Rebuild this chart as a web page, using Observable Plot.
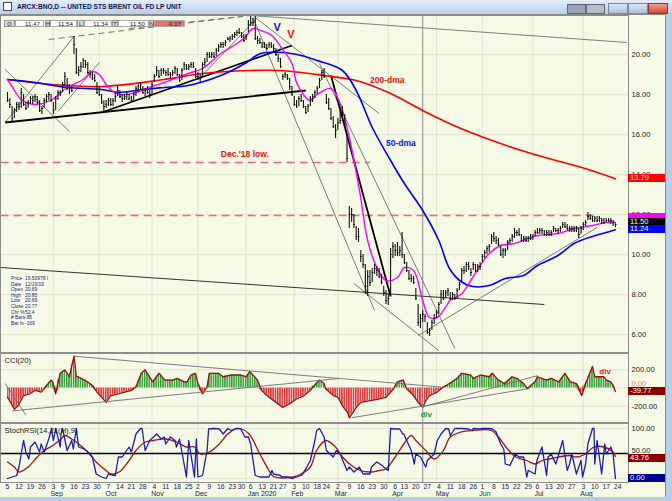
<!DOCTYPE html>
<html><head><meta charset="utf-8">
<script src="https://cdn.jsdelivr.net/npm/d3@7"></script>
<script src="https://cdn.jsdelivr.net/npm/@observablehq/plot@0.6"></script>
<style>
body{margin:0;background:#b8cde6;font-family:"Liberation Sans",Arial,sans-serif;}
#root{position:relative;width:672px;height:501px;overflow:hidden;background:#b8cde6;}
.a{position:absolute;white-space:nowrap;}
</style></head><body><div id="root"></div>
<script>
// ---------- DATA ----------
const firstBar = "2019-08-05";
const holidays = ["2019-09-02","2019-11-28","2019-12-25","2020-01-01","2020-01-20","2020-02-17","2020-04-10","2020-05-25","2020-07-03"];
// daily highs / lows / closes, Aug 5 2019 .. Aug 21 2020 (266 bars)
const highs = [
 18.1,17.8,17.4,17.3,17.6, 17.6,18.3,18.0,17.6,17.7, 17.9,17.9,18.0,17.9,17.7, 17.4,17.8,18.0,18.1,18.0,
 17.6,17.9,18.2,18.2, 18.6,19.1,18.8,18.5,18.4, 20.9,20.3,19.4,19.6,19.8, 19.7,19.6,19.2,19.1,19.0, 18.6,
 18.4,18.0,17.7,17.7, 17.8,17.8,17.8,18.1,18.4, 18.2,18.0,18.0,18.1,18.0, 17.9,18.1,18.4,18.5,18.6, 18.4,18.3,18.4,18.2,
 18.6, 19.0,19.4,19.2,19.3,19.3, 19.2,19.3,19.1,19.2,19.4, 19.3,19.0,19.3,19.6,19.5, 19.5,19.6,19.6,19.3,
 19.1,19.0,19.6,19.8,20.1, 20.1,20.1,20.1,20.3,20.5, 20.6,20.6,20.7,20.85,20.9, 21.0,21.1,21.2,21.3, 21.1,21.0,
 21.0,21.7, 21.9,21.8,21.9,20.9,20.8, 20.6,20.6,20.5,20.6,20.6, 20.5,20.3,20.0,19.8, 19.0,19.1,19.0,18.8,18.4,
 17.9,17.7,17.9,18.0,17.7, 17.4,17.5,17.9,18.0,18.2, 18.4,18.8,19.2,19.3, 18.0,17.8,17.3,16.9,16.5,
 16.8,17.2,17.4,17.0,16.0, 12.4,12.3,12.0,11.4,11.3, 10.2,10.0,9.5,9.2,9.2, 9.3,9.5,9.4,9.3,9.0, 8.4,8.2,
 8.0,10.3,10.6, 10.5,10.6,10.4,11.1, 10.0,9.6,9.2,9.0,8.9, 8.3,7.5,7.0,7.2,7.0, 6.6,6.3,6.7,7.0,
 7.2, 7.6,8.2,8.2,8.2,8.3, 8.1,8.1,8.0,8.3,8.6, 9.3,9.4,9.6,9.6,9.3, 9.6,9.5,9.5,9.6,
 10.0,10.2,10.4,10.5,11.0, 11.1,10.9,10.8,10.4,10.3, 10.3,10.7,10.8,11.0,11.3, 11.2,11.3,11.0,10.9,10.9, 10.9,11.0,
 11.0,11.2, 11.3,11.3,11.3,11.2,11.2, 11.2,11.2,11.4,11.3,11.3, 11.4,11.6,11.6,11.5,11.4, 11.4,11.4,11.4,11.3,11.4,
 11.6,11.7,12.1,12.0,11.9, 11.9,11.9,11.9,11.8,11.8, 11.8,11.8,11.8,11.7,11.54];
const lows = [
 17.6,17.3,16.6,16.8,17.1, 17.2,17.3,17.4,17.2,17.3, 17.5,17.5,17.6,17.5,17.1, 17.0,17.3,17.6,17.7,17.6,
 17.0,17.2,17.7,17.9, 18.1,18.4,18.2,18.0,18.1, 20.0,19.0,18.9,19.1,19.3, 19.3,19.0,18.8,18.7,18.6, 18.0,
 17.9,17.5,17.1,17.3, 17.4,17.4,17.4,17.6,17.9, 17.8,17.6,17.7,17.7,17.7, 17.6,17.7,17.9,18.1,18.2, 18.0,17.9,18.0,17.8,
 18.0, 18.6,18.9,18.8,18.9,19.0, 18.9,18.9,18.8,18.9,19.0, 18.9,18.6,18.7,19.2,19.2, 19.2,19.3,19.3,18.8,
 18.7,18.6,18.9,19.4,19.6, 19.8,19.8,19.8,19.9,20.1, 20.3,20.3,20.4,20.69,20.6, 20.7,20.8,20.9,21.0, 20.8,20.6,
 20.7,21.1, 21.4,21.4,20.7,20.5,20.5, 20.3,20.3,20.2,20.3,20.3, 20.1,19.9,19.6,19.3, 18.7,18.8,18.7,18.2,17.9,
 17.4,17.3,17.4,17.6,17.3, 17.0,17.1,17.4,17.6,17.8, 18.0,18.3,18.7,18.8, 17.5,17.2,16.7,16.3,15.8,
 16.2,16.5,16.8,16.4,14.6, 11.3,11.6,11.3,10.7,10.6, 9.6,9.3,8.0,7.9,8.4, 8.6,9.0,8.9,8.8,8.5, 7.9,7.5,
 7.45,7.9,9.8, 9.9,9.9,9.9,9.8, 9.5,9.1,8.7,8.6,8.5, 7.7,6.4,6.3,6.6,6.6, 6.0,5.9,6.2,6.5,
 6.8, 7.0,7.5,7.7,7.8,7.9, 7.7,7.7,7.7,7.8,8.2, 8.6,9.0,9.1,9.2,8.9, 9.2,9.1,9.1,9.2,
 9.6,9.8,10.0,10.1,10.5, 10.6,10.5,10.4,9.9,9.8, 9.9,10.2,10.5,10.6,10.8, 10.9,10.9,10.6,10.6,10.6, 10.6,10.7,
 10.7,10.9, 11.0,11.0,11.0,10.9,10.9, 10.9,10.9,11.1,11.1,11.0, 11.1,11.3,11.3,11.2,11.1, 11.1,11.1,11.1,10.8,11.0,
 11.2,11.4,11.7,11.7,11.6, 11.6,11.6,11.6,11.5,11.5, 11.6,11.6,11.5,11.4,11.34];
const closes = [
 17.7,17.5,16.8,17.2,17.5, 17.4,18.1,17.5,17.3,17.6, 17.8,17.7,17.9,17.6,17.2, 17.3,17.7,17.9,18.0,17.7,
 17.2,17.8,18.1,18.1, 18.5,18.9,18.3,18.3,18.2, 20.5,19.1,19.2,19.4,19.7, 19.5,19.1,19.0,18.8,18.7, 18.1,
 18.0,17.6,17.4,17.5, 17.7,17.5,17.7,17.9,18.2, 17.9,17.8,17.9,18.0,17.8, 17.7,18.0,18.3,18.4,18.5, 18.1,18.2,18.1,18.0,
 18.5, 18.9,19.2,18.9,19.2,19.2, 19.1,19.0,19.0,19.1,19.3, 19.0,18.7,19.2,19.5,19.3, 19.4,19.5,19.4,18.9,
 18.9,18.8,19.5,19.6,20.0, 19.9,20.0,19.9,20.2,20.4, 20.5,20.5,20.6,20.77,20.8, 20.9,21.0,21.1,21.1, 20.9,20.7,
 20.9,21.5, 21.6,21.6,20.8,20.7,20.6, 20.4,20.5,20.3,20.5,20.4, 20.3,20.0,19.8,19.4, 18.9,19.0,18.8,18.4,18.0,
 17.5,17.4,17.8,17.7,17.4, 17.1,17.4,17.8,17.9,18.1, 18.3,18.7,19.1,18.9, 17.6,17.3,16.8,16.4,16.2,
 16.6,16.7,17.0,16.5,14.8, 12.0,12.0,11.5,10.9,10.9, 9.9,9.5,8.4,8.9,8.6, 9.1,9.3,9.2,8.9,8.6, 8.1,7.7,
 7.8,10.0,10.4, 10.2,10.1,10.2,10.0, 9.6,9.2,8.8,8.8,8.6, 7.8,6.6,6.8,7.0,6.9, 6.1,6.2,6.6,6.8,
 7.1, 7.5,8.0,7.8,8.1,8.2, 7.8,8.0,7.8,8.2,8.5, 9.2,9.2,9.5,9.4,9.1, 9.5,9.2,9.4,9.4,
 9.9,10.1,10.3,10.4,10.9, 10.8,10.7,10.5,10.0,10.2, 10.2,10.6,10.7,10.9,11.1, 11.1,11.0,10.7,10.8,10.7, 10.8,10.8,
 10.9,11.1, 11.1,11.2,11.2,11.0,11.1, 11.0,11.1,11.3,11.2,11.2, 11.3,11.5,11.4,11.3,11.3, 11.3,11.2,11.3,11.0,11.3,
 11.5,11.6,11.9,11.8,11.7, 11.8,11.7,11.8,11.7,11.6, 11.7,11.7,11.7,11.6,11.50];

// moving averages
const ma200 = [["2019-08-05",18.75],["2019-09-01",18.5],["2019-10-02",18.4],["2019-11-09",18.75],["2019-12-04",19.05],["2020-01-05",19.2],["2020-01-24",19.2],["2020-02-21",18.95],["2020-03-12",18.7],["2020-04-02",18.05],["2020-04-23",17.2],["2020-05-17",16.3],["2020-06-24",15.2],["2020-07-13",14.8],["2020-08-01",14.35],["2020-08-21",13.79]];
const ma50 = [["2019-08-05",18.75],["2019-08-21",18.6],["2019-09-11",18.35],["2019-10-02",18.25],["2019-10-13",18.1],["2019-10-28",18.25],["2019-11-09",18.35],["2019-11-24",18.45],["2019-12-16",18.95],["2020-01-01",19.55],["2020-01-11",20.05],["2020-01-26",20.1],["2020-02-06",19.95],["2020-02-18",19.7],["2020-03-04",19.2],["2020-03-12",18.2],["2020-03-23",16.35],["2020-04-02",14.7],["2020-04-13",13.55],["2020-04-23",12.2],["2020-05-04",10.7],["2020-05-10",9.3],["2020-05-17",8.65],["2020-05-25",8.4],["2020-06-04",8.45],["2020-06-15",8.8],["2020-06-25",8.95],["2020-07-06",9.45],["2020-07-17",9.95],["2020-07-28",10.55],["2020-08-07",10.9],["2020-08-17",11.1],["2020-08-21",11.24]];
const ma10 = [["2019-08-05",18.75],["2019-08-07",18.4],["2019-08-13",17.75],["2019-08-21",17.5],["2019-09-01",17.75],["2019-09-11",18.35],["2019-09-20",18.75],["2019-09-26",19.15],["2019-10-01",19.0],["2019-10-07",18.35],["2019-10-13",18.0],["2019-10-23",18.1],["2019-11-01",18.4],["2019-11-09",18.6],["2019-11-24",19.05],["2019-12-04",19.3],["2019-12-16",20.05],["2019-12-26",20.55],["2020-01-01",20.85],["2020-01-07",21.3],["2020-01-11",21.2],["2020-01-18",20.95],["2020-01-26",20.3],["2020-01-31",19.55],["2020-02-04",18.6],["2020-02-08",17.95],["2020-02-12",17.7],["2020-02-18",18.0],["2020-02-26",18.3],["2020-03-03",17.55],["2020-03-09",15.85],["2020-03-15",13.05],["2020-03-19",10.7],["2020-03-25",9.35],["2020-03-31",8.7],["2020-04-07",8.85],["2020-04-13",9.35],["2020-04-17",9.2],["2020-04-23",7.7],["2020-04-28",6.85],["2020-05-02",6.85],["2020-05-08",7.55],["2020-05-10",7.7],["2020-05-17",8.0],["2020-05-25",8.85],["2020-06-04",10.05],["2020-06-11",10.45],["2020-06-19",10.55],["2020-06-28",10.8],["2020-07-06",10.95],["2020-07-17",11.05],["2020-07-28",11.3],["2020-08-07",11.45],["2020-08-17",11.6],["2020-08-21",11.6]];

// CCI(20)
const cci = [["2019-08-05",-100],["2019-08-08",-234],["2019-08-11",-196],["2019-08-14",-83],["2019-08-18",-64],["2019-08-21",-26],["2019-08-25",-45],["2019-08-27",-8],["2019-08-30",87],["2019-09-02",68],["2019-09-04",-64],["2019-09-06",162],["2019-09-10",200],["2019-09-12",124],["2019-09-13",240],["2019-09-16",350],["2019-09-17",130],["2019-09-18",120],["2019-09-22",87],["2019-09-26",30],["2019-09-30",-45],["2019-10-04",-158],["2019-10-08",-83],["2019-10-12",-64],["2019-10-16",-45],["2019-10-21",-26],["2019-10-23",11],["2019-10-26",162],["2019-10-29",200],["2019-11-02",68],["2019-11-06",162],["2019-11-10",87],["2019-11-14",87],["2019-11-18",106],["2019-11-21",68],["2019-11-23",68],["2019-11-26",143],["2019-11-29",162],["2019-12-02",49],["2019-12-04",-64],["2019-12-06",11],["2019-12-09",162],["2019-12-13",162],["2019-12-17",124],["2019-12-21",143],["2019-12-25",143],["2019-12-29",143],["2020-01-02",124],["2020-01-05",181],["2020-01-09",87],["2020-01-12",-26],["2020-01-16",-102],["2020-01-21",-139],["2020-01-27",-215],["2020-01-31",-158],["2020-02-04",-121],["2020-02-08",-83],["2020-02-12",-26],["2020-02-16",49],["2020-02-19",87],["2020-02-21",49],["2020-02-23",-8],["2020-02-27",-83],["2020-03-02",-102],["2020-03-04",-196],["2020-03-07",-271],["2020-03-09",-328],["2020-03-12",-215],["2020-03-16",-158],["2020-03-20",-139],["2020-03-26",-121],["2020-03-31",-102],["2020-04-04",-8],["2020-04-07",68],["2020-04-11",87],["2020-04-14",-8],["2020-04-17",-83],["2020-04-21",-158],["2020-04-23",-215],["2020-04-25",-139],["2020-04-28",-83],["2020-05-02",-45],["2020-05-06",11],["2020-05-10",49],["2020-05-14",106],["2020-05-18",162],["2020-05-22",143],["2020-05-26",106],["2020-05-30",143],["2020-06-04",124],["2020-06-06",162],["2020-06-10",87],["2020-06-14",49],["2020-06-18",124],["2020-06-22",106],["2020-06-25",49],["2020-06-28",-8],["2020-07-02",68],["2020-07-06",124],["2020-07-10",87],["2020-07-14",106],["2020-07-18",68],["2020-07-22",162],["2020-07-25",68],["2020-07-29",49],["2020-08-01",-83],["2020-08-04",49],["2020-08-07",237],["2020-08-10",124],["2020-08-14",124],["2020-08-17",87],["2020-08-19",68],["2020-08-20",30],["2020-08-21",-39.77]];

// StochRSI and its signal line
const stoch = [["2019-08-05",0],["2019-08-09",6],["2019-08-12",23],["2019-08-14",76],["2019-08-15",53],["2019-08-17",39],["2019-08-19",63],["2019-08-21",73],["2019-08-23",53],["2019-08-25",69],["2019-08-27",53],["2019-08-29",79],["2019-08-31",100],["2019-09-01",89],["2019-09-03",76],["2019-09-04",100],["2019-09-06",63],["2019-09-07",89],["2019-09-09",100],["2019-09-11",56],["2019-09-13",76],["2019-09-15",59],["2019-09-17",100],["2019-09-18",63],["2019-09-21",59],["2019-09-24",53],["2019-09-26",43],["2019-09-29",9],["2019-10-02",3],["2019-10-04",0],["2019-10-07",9],["2019-10-10",6],["2019-10-12",43],["2019-10-15",43],["2019-10-18",63],["2019-10-21",53],["2019-10-23",89],["2019-10-25",100],["2019-10-27",100],["2019-10-29",56],["2019-10-31",76],["2019-11-03",83],["2019-11-05",89],["2019-11-07",79],["2019-11-09",83],["2019-11-11",69],["2019-11-13",83],["2019-11-15",76],["2019-11-17",63],["2019-11-19",79],["2019-11-22",3],["2019-11-24",49],["2019-11-25",76],["2019-11-28",3],["2019-11-29",49],["2019-11-30",79],["2019-12-02",3],["2019-12-04",6],["2019-12-06",56],["2019-12-08",99],["2019-12-11",100],["2019-12-14",99],["2019-12-17",89],["2019-12-19",100],["2019-12-22",96],["2019-12-25",100],["2019-12-27",100],["2019-12-29",99],["2020-01-01",83],["2020-01-03",83],["2020-01-06",69],["2020-01-08",6],["2020-01-10",3],["2020-01-13",3],["2020-01-16",3],["2020-01-18",16],["2020-01-21",9],["2020-01-24",6],["2020-01-26",3],["2020-01-29",3],["2020-02-01",0],["2020-02-04",3],["2020-02-06",6],["2020-02-09",16],["2020-02-12",36],["2020-02-14",76],["2020-02-17",96],["2020-02-19",100],["2020-02-21",83],["2020-02-24",56],["2020-02-27",43],["2020-02-29",56],["2020-03-03",49],["2020-03-06",16],["2020-03-09",23],["2020-03-11",13],["2020-03-14",23],["2020-03-17",9],["2020-03-20",9],["2020-03-22",23],["2020-03-25",33],["2020-03-28",26],["2020-03-30",23],["2020-04-01",16],["2020-04-02",100],["2020-04-06",99],["2020-04-08",99],["2020-04-10",89],["2020-04-12",89],["2020-04-14",76],["2020-04-16",56],["2020-04-18",29],["2020-04-20",49],["2020-04-22",43],["2020-04-25",23],["2020-04-27",36],["2020-04-30",49],["2020-05-02",76],["2020-05-05",89],["2020-05-07",100],["2020-05-09",99],["2020-05-11",86],["2020-05-13",100],["2020-05-16",100],["2020-05-18",100],["2020-05-21",99],["2020-05-24",96],["2020-05-26",100],["2020-05-29",99],["2020-06-01",100],["2020-06-04",100],["2020-06-06",99],["2020-06-09",93],["2020-06-11",69],["2020-06-13",59],["2020-06-15",29],["2020-06-17",26],["2020-06-20",49],["2020-06-23",43],["2020-06-25",43],["2020-06-27",3],["2020-06-29",16],["2020-07-02",9],["2020-07-04",29],["2020-07-06",39],["2020-07-08",63],["2020-07-10",6],["2020-07-12",43],["2020-07-14",49],["2020-07-16",29],["2020-07-18",49],["2020-07-21",76],["2020-07-23",16],["2020-07-24",29],["2020-07-27",49],["2020-07-29",9],["2020-07-31",36],["2020-08-02",3],["2020-08-04",29],["2020-08-05",69],["2020-08-07",100],["2020-08-09",100],["2020-08-10",29],["2020-08-11",76],["2020-08-13",9],["2020-08-15",69],["2020-08-17",49],["2020-08-19",63],["2020-08-20",49],["2020-08-21",0]];
const stochSignal = [["2019-08-05",33],["2019-08-08",23],["2019-08-12",13],["2019-08-16",23],["2019-08-22",43],["2019-08-27",56],["2019-09-02",66],["2019-09-07",79],["2019-09-10",86],["2019-09-13",79],["2019-09-18",69],["2019-09-24",53],["2019-09-29",33],["2019-10-04",16],["2019-10-08",9],["2019-10-13",13],["2019-10-18",36],["2019-10-23",56],["2019-10-29",73],["2019-11-03",76],["2019-11-11",79],["2019-11-17",73],["2019-11-22",63],["2019-11-28",63],["2019-12-03",49],["2019-12-09",53],["2019-12-14",69],["2019-12-19",89],["2019-12-25",99],["2019-12-30",99],["2020-01-04",89],["2020-01-10",49],["2020-01-16",16],["2020-01-21",4],["2020-02-01",3],["2020-02-06",9],["2020-02-12",23],["2020-02-17",56],["2020-02-23",76],["2020-02-28",63],["2020-03-04",43],["2020-03-10",26],["2020-03-15",16],["2020-03-21",13],["2020-03-26",16],["2020-03-31",19],["2020-04-06",43],["2020-04-12",69],["2020-04-16",86],["2020-04-20",76],["2020-04-25",56],["2020-04-30",39],["2020-05-06",56],["2020-05-11",83],["2020-05-17",93],["2020-05-25",96],["2020-06-05",96],["2020-06-10",83],["2020-06-16",59],["2020-06-21",43],["2020-06-27",36],["2020-07-02",29],["2020-07-08",36],["2020-07-13",39],["2020-07-18",43],["2020-07-24",46],["2020-07-29",43],["2020-08-04",49],["2020-08-09",63],["2020-08-14",63],["2020-08-20",53],["2020-08-21",43.76]];

// drawn trendlines: [date1, value1, date2, value2]
const blackTrend = [["2019-08-02",16.6,"2020-02-10",18.2],["2019-10-02",17.1,"2020-01-31",20.45],["2020-02-26",18.95,"2020-04-02",7.9]];
const darkTrend = [["2019-07-31",9.35,"2020-07-09",7.5]];
const grayTrend = [["2020-01-06",21.95,"2020-08-28",20.6],["2020-01-08",21.85,"2020-03-26",17.05],["2020-01-07",21.85,"2020-03-24",7.2],["2020-02-19",19.55,"2020-05-13",5.3],["2020-03-11",8.55,"2020-05-04",5.2],["2020-04-21",5.95,"2020-08-11",11.35],["2019-08-02",16.6,"2019-09-16",20.9],["2019-08-02",19.25,"2019-09-12",16.15],["2019-09-05",17.15,"2019-10-01",19.6],["2019-12-03",18.85,"2020-01-09",21.85]];
const dashedTrend = [["2019-08-29",20.75,"2020-01-06",21.95],["2019-10-18",21.3,"2019-12-30",21.9]];
const supportLevels = [["2019-07-31",14.6,"2020-03-20"],["2019-07-31",11.95,"2020-08-11"]];
const cciTrend = [["2019-09-16",350,"2020-05-05",11],["2019-08-07",-253,"2020-03-03",106],["2019-08-02",49,"2019-08-15",-298],["2020-03-10",-328,"2020-06-29",-8],["2020-04-23",-208,"2020-07-06",136]];
const markerDate = "2020-04-23";

// annotations
const notesBlue = [["2020-01-21",21.37,"V"],["2020-03-31",15.57,"50-dma"]];
const notesRed = [["2020-01-29",20.98,"V"],["2020-03-20",18.7,"200-dma"],["2019-12-16",15.0,"Dec.'18 low."]];
const cciNoteGreen = [["2020-04-22",-292,"div"]];
const cciNoteRed = [["2020-08-12",185,"div"]];

// axes / labels
const priceTicks = [6,8,10,12,14,16,18,20];
const cciTicks = [200,0,-200];
const stochTicks = [100,50,0];
const tickDates = ["2019-08-05","2019-08-12","2019-08-19","2019-08-26","2019-09-03","2019-09-09","2019-09-16","2019-09-23","2019-09-30","2019-10-07","2019-10-14","2019-10-21","2019-10-28","2019-11-04","2019-11-11","2019-11-18","2019-11-25","2019-12-02","2019-12-09","2019-12-16","2019-12-23","2019-12-30","2020-01-06","2020-01-13","2020-01-21","2020-01-27","2020-02-03","2020-02-10","2020-02-18","2020-02-24","2020-03-02","2020-03-09","2020-03-16","2020-03-23","2020-03-30","2020-04-06","2020-04-13","2020-04-20","2020-04-27","2020-05-04","2020-05-11","2020-05-18","2020-05-26","2020-06-01","2020-06-08","2020-06-15","2020-06-22","2020-06-29","2020-07-06","2020-07-13","2020-07-20","2020-07-27","2020-08-03","2020-08-10","2020-08-17","2020-08-24"];
const tickLabels = ["5","12","19","26","3","9","16","23","30","7","14","21","28","4","11","18","25","2","9","16","23","30","6","13","21","27","3","10","18","24","2","9","16","23","30","6","13","20","27","4","11","18","26","1","8","15","22","29","6","13","20","27","3","10","17","24"];
const monthDates = ["2019-09-03","2019-10-07","2019-11-04","2019-12-02","2020-01-06","2020-02-03","2020-03-02","2020-04-06","2020-05-04","2020-06-01","2020-07-06","2020-08-03"];
const monthLabels = ["Sep","Oct","Nov","Dec","Jan 2020","Feb","Mar","Apr","May","Jun","Jul","Aug"];
const gridDates = ["2019-09-03","2019-10-01","2019-11-01","2019-12-02","2020-01-02","2020-02-03","2020-03-02","2020-04-01","2020-05-01","2020-06-01","2020-07-01","2020-08-03"];
const lastValues = {ma200: 13.79, ma10: 11.60, close: 11.50, ma50: 11.24, cci: -39.77, signal: 43.76, stoch: 0.00};
const titleText = "ARCX:BNO,D -- UNITED STS BRENT OIL FD LP UNIT";
const ohlcLetters = ["O","H","L","T","N"];
const ohlcValues = ["11.47","11.54","11.34","11.50","-0.17"];
const infoLabels = ["Price","Date","Open","High","Low","Close","Chr %","# Bars","Bar Ix"];
const infoValues = ["19.50978 I","12/19/19","20.69","20.85","20.69","20.77","52.4","-85","-169"];

// ---------- trading calendar (bar index) ----------
const hol = new Set(holidays);
const cal = [];
for (let t = Date.UTC(2019,6,22); t <= Date.UTC(2020,8,11); t += 864e5) {
  const d = new Date(t), wd = d.getUTCDay(), s = d.toISOString().slice(0,10);
  if (wd > 0 && wd < 6 && !hol.has(s)) cal.push(t);
}
const base = cal.indexOf(Date.parse(firstBar));
function idx(s) {
  const t = Date.parse(s);
  const j = d3.bisectLeft(cal, t);
  if (cal[j] === t) return j - base;
  return (j - 1) + (t - cal[j-1]) / (cal[j] - cal[j-1]) - base;
}
const n = Math.min(highs.length, lows.length, closes.length);
const bars = d3.range(n).map(i => ({i, h: highs[i], l: lows[i], c: closes[i]}));
const pts = arr => arr.map(([d, v]) => ({i: idx(d), v}));
const links = (arr, opts) => Plot.link(arr, {x1: d => idx(d[0]), y1: d => d[1], x2: d => idx(d[2]), y2: d => d[3], clip: true, ...opts});

// ---------- layout ----------
const root = document.getElementById("root");
const FONT = "Liberation Sans, Arial, sans-serif";
const W = 663, MR = 35, AXF = 7.6;
const xs = {domain: [-3.05, 270.7], axis: null};
const gridI = gridDates.map(idx);
const GRID = "#e1e7d0";
const baseStyle = {background: "transparent", fontFamily: FONT, overflow: "visible"};
function el(html, css) { const d = document.createElement("div"); d.className = "a"; d.innerHTML = html; Object.assign(d.style, css); root.appendChild(d); return d; }
function place(svg, top) { svg.style.position = "absolute"; svg.style.left = "0px"; svg.style.top = top + "px"; root.appendChild(svg); }

// cream chart background
el("", {left: "0px", top: "14px", width: "665px", height: "483px", background: "#f5f9e6"});
el("", {left: "665px", top: "14px", width: "1px", height: "483px", background: "#6e8fb9"});
el("", {left: "0px", top: "14px", width: "665px", height: "1px", background: "#8c8c8c"});

// main price panel
const main = Plot.plot({
  width: W, height: 337, marginLeft: 0, marginRight: MR, marginTop: 0, marginBottom: 0,
  x: xs, y: {domain: [5.1, 21.95], axis: null}, style: baseStyle,
  marks: [
    Plot.ruleY(priceTicks, {stroke: GRID}),
    Plot.ruleX(gridI, {stroke: GRID}),
    Plot.ruleX([idx(markerDate)], {stroke: "#8a8a8a"}),
    Plot.link(supportLevels, {x1: d => idx(d[0]), x2: d => idx(d[2]), y1: d => d[1], y2: d => d[1], stroke: "#f26a6a", strokeWidth: 1.3, strokeDasharray: "8,5", clip: true}),
    links(grayTrend, {stroke: "#6f6f6f", strokeWidth: 0.9}),
    links(darkTrend, {stroke: "#333", strokeWidth: 1}),
    links(dashedTrend, {stroke: "#777", strokeWidth: 1, strokeDasharray: "6,4"}),
    links(blackTrend, {stroke: "#000", strokeWidth: 1.8}),
    Plot.line(ma200, {x: d => idx(d[0]), y: d => d[1], stroke: "#ff0000", strokeWidth: 1.6, curve: "catmull-rom", clip: true}),
    Plot.line(ma50, {x: d => idx(d[0]), y: d => d[1], stroke: "#0000ff", strokeWidth: 1.6, curve: "catmull-rom", clip: true}),
    Plot.line(ma10, {x: d => idx(d[0]), y: d => d[1], stroke: "#ff00ff", strokeWidth: 1.4, curve: "catmull-rom", clip: true}),
    Plot.ruleX(bars, {x: "i", y1: "l", y2: "h", stroke: "#111", strokeWidth: 1.1}),
    Plot.ruleY(bars, {y: "c", x1: "i", x2: d => d.i + 0.7, stroke: "#111", strokeWidth: 1.1}),
    Plot.text(notesBlue, {x: d => idx(d[0]), y: d => d[1], text: d => d[2], fill: "#1010e8", fontWeight: "bold", fontSize: d => d[2] === "V" ? 11 : 8.5, textAnchor: "start"}),
    Plot.text(notesRed, {x: d => idx(d[0]), y: d => d[1], text: d => d[2], fill: "#ee1111", fontWeight: "bold", fontSize: d => d[2] === "V" ? 11 : 8.5, textAnchor: "start"}),
    Plot.axisY(priceTicks, {anchor: "right", tickSize: 0, tickPadding: 3, tickFormat: d => d.toFixed(2), fontSize: AXF, color: "#222", label: null}),
    Plot.frame({stroke: "#8c8c8c"})
  ]
});
place(main, 15);

// CCI panel
const cciPts = pts(cci);
const cciPlot = Plot.plot({
  width: W, height: 69, marginLeft: 0, marginRight: MR, marginTop: 0, marginBottom: 0,
  x: xs, y: {domain: [-380, 380], axis: null}, style: baseStyle,
  marks: [
    Plot.ruleX(gridI, {stroke: GRID}),
    Plot.ruleY(cciTicks, {stroke: GRID}),
    Plot.areaY(cciPts, {x: "i", y1: 0, y2: d => Math.max(0, d.v), fill: "url(#cciG)"}),
    Plot.areaY(cciPts, {x: "i", y1: 0, y2: d => Math.min(0, d.v), fill: "url(#cciR)"}),
    Plot.line(cciPts, {x: "i", y: "v", stroke: "#8e1414", strokeWidth: 1.3}),
    links(cciTrend, {stroke: "#6f6f6f", strokeWidth: 0.9}),
    Plot.ruleX([idx(markerDate)], {stroke: "#8a8a8a"}),
    Plot.text(cciNoteGreen, {x: d => idx(d[0]), y: d => d[1], text: d => d[2], fill: "#1a9a1a", fontWeight: "bold", fontSize: 8, textAnchor: "start"}),
    Plot.text(cciNoteRed, {x: d => idx(d[0]), y: d => d[1], text: d => d[2], fill: "#ee1111", fontWeight: "bold", fontSize: 8, textAnchor: "start"}),
    Plot.text(["CCI(20)"], {frameAnchor: "top-left", dx: 4, dy: 4, fontSize: 7.6, fill: "#222"}),
    Plot.axisY([200, -200], {anchor: "right", tickSize: 0, tickPadding: 3, tickFormat: d => d.toFixed(2), fontSize: AXF, color: "#222", label: null}),
    Plot.axisY([0], {anchor: "right", tickSize: 0, tickPadding: 3, dy: -4, tickFormat: d => d.toFixed(2), fontSize: AXF, color: "#f08080", label: null}),
    Plot.frame({stroke: "#8c8c8c"})
  ]
});
const x0 = cciPlot.scale("x").apply(0), step = cciPlot.scale("x").apply(1) - x0;
cciPlot.insertAdjacentHTML("afterbegin",
 `<defs><pattern id="cciG" patternUnits="userSpaceOnUse" x="${x0 - 0.7}" y="0" width="${step}" height="10"><rect width="${step}" height="10" fill="#d9efcf"/><rect width="1.4" height="10" fill="#2f9b2f"/></pattern>
  <pattern id="cciR" patternUnits="userSpaceOnUse" x="${x0 - 0.7}" y="0" width="${step}" height="10"><rect width="${step}" height="10" fill="#f8d6d6"/><rect width="1.4" height="10" fill="#e42a2a"/></pattern></defs>`);
place(cciPlot, 353);

// StochRSI panel
const tickObjs = tickDates.map((d, k) => ({i: idx(d), t: tickLabels[k]}));
const monthObjs = monthDates.map((d, k) => ({i: idx(d), t: monthLabels[k]}));
const stPlot = Plot.plot({
  width: W, height: 75, marginLeft: 0, marginRight: MR, marginTop: 0, marginBottom: 16,
  x: xs, y: {domain: [-8, 110], axis: null}, style: baseStyle,
  marks: [
    Plot.ruleX(gridI, {stroke: GRID}),
    Plot.ruleY([100, 0], {stroke: GRID}),
    Plot.ruleX([idx(markerDate)], {stroke: "#8a8a8a"}),
    Plot.ruleY([50], {stroke: "#000", strokeWidth: 1.4}),
    Plot.line(pts(stochSignal), {x: "i", y: "v", stroke: "#a31414", strokeWidth: 1.3, curve: "catmull-rom", clip: true}),
    Plot.line(pts(stoch), {x: "i", y: "v", stroke: "#1c1cb4", strokeWidth: 1.3, clip: true}),
    Plot.text(["StochRSI(14,21(H),9)"], {frameAnchor: "top-left", dx: 4, dy: 4, fontSize: 7.6, fill: "#222"}),
    Plot.text(tickObjs, {x: "i", text: "t", frameAnchor: "bottom", dy: 6, fontSize: 6.8, fill: "#1d1d55"}),
    Plot.text(monthObjs, {x: "i", text: "t", frameAnchor: "bottom", dy: 13, dx: -3, textAnchor: "start", fontSize: 7, fill: "#1d1d55"}),
    Plot.axisY([100], {anchor: "right", tickSize: 0, tickPadding: 3, tickFormat: d => d.toFixed(2), fontSize: AXF, color: "#222", label: null}),
    Plot.axisY([50], {anchor: "right", tickSize: 0, tickPadding: 3, dy: -3, tickFormat: d => d.toFixed(2), fontSize: AXF, color: "#222", label: null}),
    Plot.frame({stroke: "#8c8c8c"})
  ]
});
place(stPlot, 423);
el("", {left: "0px", top: "497px", width: "672px", height: "4px", background: "#b8cde6"});

// right-hand value boxes, placed through each panel's y scale
function valBox(top, text, bg, h) {
  h = h || 8;
  el(text, {left: "628px", top: (top - h / 2) + "px", width: "37px", height: h + "px", background: bg, color: "#fff", fontSize: "7.6px", lineHeight: h + "px", paddingLeft: "2px", boxSizing: "border-box"});
}
const ym = v => 15 + main.scale("y").apply(v);
valBox(ym(lastValues.ma200), lastValues.ma200.toFixed(2), "#ff0000");
const yBlue = ym(lastValues.ma50), yBlack = Math.min(ym(lastValues.close), yBlue - 7.5);
valBox(yBlack - 6.5, "", "#ff00ff", 5);       // 11.60 box, its text hidden under the close box
valBox(yBlack, lastValues.close.toFixed(2), "#000000");
valBox(yBlue, lastValues.ma50.toFixed(2), "#0000ff");
valBox(353 + cciPlot.scale("y").apply(lastValues.cci), lastValues.cci.toFixed(2), "#8b0000");
valBox(423 + stPlot.scale("y").apply(lastValues.signal) + 1.5, lastValues.signal.toFixed(2), "#8b0000");
valBox(423 + stPlot.scale("y").apply(lastValues.stoch), lastValues.stoch.toFixed(2), "#00008b");

// title bar
el("", {left: "0px", top: "0px", width: "672px", height: "14px", background: "linear-gradient(#e4edf8,#b9cee9)"});
el("", {left: "3px", top: "2px", width: "9px", height: "9px", background: "#fff", border: "1px solid #445", boxSizing: "border-box"});
el(titleText, {left: "17px", top: "2px", fontSize: "6.6px", lineHeight: "10px", color: "#101a4a", fontWeight: "bold"});
el("", {left: "567px", top: "4px", width: "17px", height: "8px", background: "#9aa6b5", border: "1px solid #667"});
el("", {left: "586px", top: "4px", width: "17px", height: "8px", background: "#b4bfcc", border: "1px solid #667"});
el("", {left: "608px", top: "3px", width: "18px", height: "9px", background: "linear-gradient(#dbe6f4,#aebfd8)", border: "1px solid #7a8ba6"});
el("", {left: "628px", top: "3px", width: "18px", height: "9px", background: "linear-gradient(#dbe6f4,#aebfd8)", border: "1px solid #7a8ba6"});
el("", {left: "648px", top: "3px", width: "18px", height: "9px", background: "linear-gradient(#f0a090,#d04a30)", border: "1px solid #8a3a2a"});

// OHLC strip
const cells = [[4,11,44],[45,5,77],[77,7,112],[112,6,149],[149,5,185]];
cells.forEach(([x, w, end], k) => {
  el(ohlcLetters[k], {left: x + "px", top: "20px", width: w + "px", height: "7px", background: "#d8d8d8", border: "1px solid #999", boxSizing: "border-box", fontSize: "5.5px", lineHeight: "6px", textAlign: "center", color: "#222"});
  el(ohlcValues[k], {left: (x + w) + "px", top: "20px", width: (end - x - w) + "px", height: "7px", background: k === 4 ? "#f26a6a" : "#fff", border: "1px solid #aaa", boxSizing: "border-box", fontSize: "6.2px", lineHeight: "6px", textAlign: "right", paddingRight: "3px", color: "#222"});
});

// data box
infoLabels.forEach((t, k) => {
  el(t, {left: "11px", top: (276 + k * 5.6) + "px", fontSize: "4.9px", lineHeight: "5.4px", color: "#1d2380"});
  el(infoValues[k], {left: "25px", top: (276 + k * 5.6) + "px", fontSize: "4.9px", lineHeight: "5.4px", color: "#1d2380"});
});
</script></body></html>
